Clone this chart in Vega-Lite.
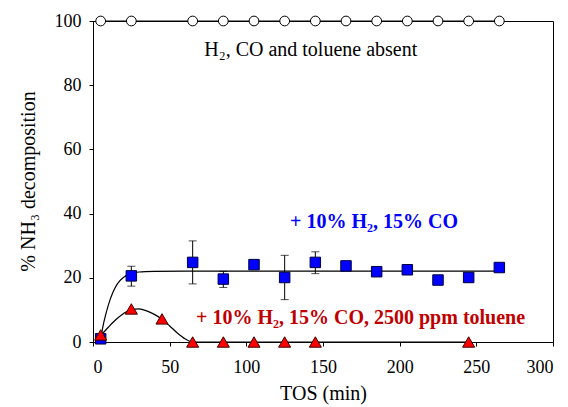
{
  "$schema": "https://vega.github.io/schema/vega-lite/v6.json",
  "width": 460,
  "height": 321,
  "autosize": "none",
  "padding": {"left": 93, "top": 21, "right": 15, "bottom": 65},
  "background": "white",
  "config": {
    "view": {"stroke": "black", "strokeWidth": 1},
    "font": "Times New Roman, Liberation Serif, DejaVu Serif, serif",
    "axis": {
      "grid": false,
      "domainColor": "black",
      "tickColor": "black",
      "tickSize": 4,
      "labelFont": "Times New Roman, Liberation Serif, DejaVu Serif, serif",
      "labelFontSize": 18,
      "labelColor": "black",
      "titleFont": "Times New Roman, Liberation Serif, DejaVu Serif, serif",
      "titleFontSize": 20,
      "titleFontWeight": "normal",
      "titleColor": "black"
    }
  },
  "datasets": {
    "circles": [
      {"t": 5, "v": 100}, {"t": 25, "v": 100}, {"t": 65, "v": 100}, {"t": 85, "v": 100},
      {"t": 105, "v": 100}, {"t": 125, "v": 100}, {"t": 145, "v": 100}, {"t": 165, "v": 100},
      {"t": 185, "v": 100}, {"t": 205, "v": 100}, {"t": 225, "v": 100}, {"t": 245, "v": 100},
      {"t": 265, "v": 100}
    ],
    "squares": [
      {"t": 5, "v": 1.0},
      {"t": 25, "v": 20.6, "lo": 17.4, "hi": 23.6},
      {"t": 65, "v": 24.8, "lo": 18.1, "hi": 31.5},
      {"t": 85, "v": 19.6, "lo": 17.0, "hi": 22.0},
      {"t": 105, "v": 24.1},
      {"t": 125, "v": 20.1, "lo": 13.2, "hi": 27.0},
      {"t": 145, "v": 24.8, "lo": 21.3, "hi": 28.1},
      {"t": 165, "v": 23.7},
      {"t": 185, "v": 21.9},
      {"t": 205, "v": 22.5},
      {"t": 225, "v": 19.3},
      {"t": 245, "v": 20.1},
      {"t": 265, "v": 23.2}
    ],
    "triangles": [
      {"t": 5, "v": 2.2}, {"t": 25, "v": 10.3}, {"t": 45, "v": 7.2}, {"t": 65, "v": 0},
      {"t": 85, "v": 0}, {"t": 105, "v": 0}, {"t": 125, "v": 0}, {"t": 145, "v": 0},
      {"t": 245, "v": 0}
    ],
    "blueFit": [
      {"t": 5, "v": 1.0}, {"t": 7, "v": 6.0}, {"t": 10, "v": 11.5}, {"t": 13, "v": 15.5},
      {"t": 16, "v": 18.2}, {"t": 20, "v": 20.2}, {"t": 25, "v": 21.3}, {"t": 30, "v": 21.8},
      {"t": 40, "v": 22.0}, {"t": 60, "v": 22.1}, {"t": 265, "v": 22.1}
    ],
    "redFit": [
      {"t": 5, "v": 2.0}, {"t": 10, "v": 4.6}, {"t": 15, "v": 7.0}, {"t": 20, "v": 8.9},
      {"t": 25, "v": 10.1}, {"t": 30, "v": 10.3}, {"t": 35, "v": 9.7}, {"t": 40, "v": 8.6},
      {"t": 45, "v": 7.1}, {"t": 50, "v": 5.0}, {"t": 55, "v": 2.8}, {"t": 60, "v": 1.0},
      {"t": 65, "v": 0}, {"t": 245, "v": 0}
    ],
    "labels": [
      {"t": 142, "v": 91, "label": "H₂, CO and toluene absent", "series": "none"},
      {"t": 128.5, "v": 37.4, "label": "+ 10% H₂, 15% CO", "series": "blue"},
      {"t": 67.2, "v": 7.5, "label": "+ 10% H₂, 15% CO, 2500 ppm toluene", "series": "red"}
    ]
  },
  "encoding": {
    "x": {
      "field": "t", "type": "quantitative",
      "scale": {"domain": [0, 300], "nice": false},
      "axis": {"title": "TOS (min)", "values": [0, 50, 100, 150, 200, 250, 300], "labelPadding": 12, "titleX": 230, "titleY": 51, "titleBaseline": "middle"}
    },
    "y": {
      "field": "v", "type": "quantitative",
      "scale": {"domain": [0, 100], "nice": false},
      "axis": {"title": "% NH₃ decomposition", "values": [0, 20, 40, 60, 80, 100], "labelPadding": 8, "titleX": -65, "titleY": 160, "titleBaseline": "middle", "titleAlign": "center", "titleAngle": -90}
    }
  },
  "layer": [
    {
      "data": {"name": "circles"},
      "mark": {"type": "line", "color": "black", "strokeWidth": 1},
      "encoding": {}
    },
    {
      "data": {"name": "blueFit"},
      "mark": {"type": "line", "color": "black", "strokeWidth": 1.2, "interpolate": "monotone"},
      "encoding": {}
    },
    {
      "data": {"name": "redFit"},
      "mark": {"type": "line", "color": "black", "strokeWidth": 1.2, "interpolate": "monotone"},
      "encoding": {}
    },
    {
      "data": {"name": "squares"},
      "transform": [{"filter": "isValid(datum.lo)"}],
      "mark": {"type": "rule", "color": "black", "strokeWidth": 1},
      "encoding": {"y": {"field": "lo", "type": "quantitative"}, "y2": {"field": "hi"}}
    },
    {
      "data": {"name": "squares"},
      "transform": [{"filter": "isValid(datum.lo)"}],
      "mark": {"type": "tick", "color": "black", "orient": "horizontal", "size": 8, "thickness": 1},
      "encoding": {"y": {"field": "lo", "type": "quantitative"}}
    },
    {
      "data": {"name": "squares"},
      "transform": [{"filter": "isValid(datum.hi)"}],
      "mark": {"type": "tick", "color": "black", "orient": "horizontal", "size": 8, "thickness": 1},
      "encoding": {"y": {"field": "hi", "type": "quantitative"}}
    },
    {
      "data": {"name": "circles"},
      "mark": {"type": "point", "shape": "circle", "size": 95, "filled": true, "fill": "white", "stroke": "black", "strokeWidth": 1, "opacity": 1}
    },
    {
      "data": {"name": "squares"},
      "mark": {"type": "point", "shape": "square", "size": 110, "filled": true, "fill": "#0000ff", "stroke": "#000040", "strokeWidth": 1, "opacity": 1}
    },
    {
      "data": {"name": "triangles"},
      "mark": {"type": "point", "shape": "triangle-up", "size": 145, "filled": true, "fill": "#ff0000", "stroke": "#400000", "strokeWidth": 1, "opacity": 1}
    },
    {
      "data": {"name": "labels"},
      "transform": [{"filter": "datum.series == 'none'"}],
      "mark": {"type": "text", "fontSize": 20, "align": "center", "baseline": "middle", "color": "black"},
      "encoding": {"text": {"field": "label"}}
    },
    {
      "data": {"name": "labels"},
      "transform": [{"filter": "datum.series == 'blue'"}],
      "mark": {"type": "text", "fontSize": 20, "fontWeight": "bold", "align": "left", "baseline": "middle", "color": "#0000ff"},
      "encoding": {"text": {"field": "label"}}
    },
    {
      "data": {"name": "labels"},
      "transform": [{"filter": "datum.series == 'red'"}],
      "mark": {"type": "text", "fontSize": 20, "fontWeight": "bold", "align": "left", "baseline": "middle", "color": "#c00000"},
      "encoding": {"text": {"field": "label"}}
    }
  ]
}
